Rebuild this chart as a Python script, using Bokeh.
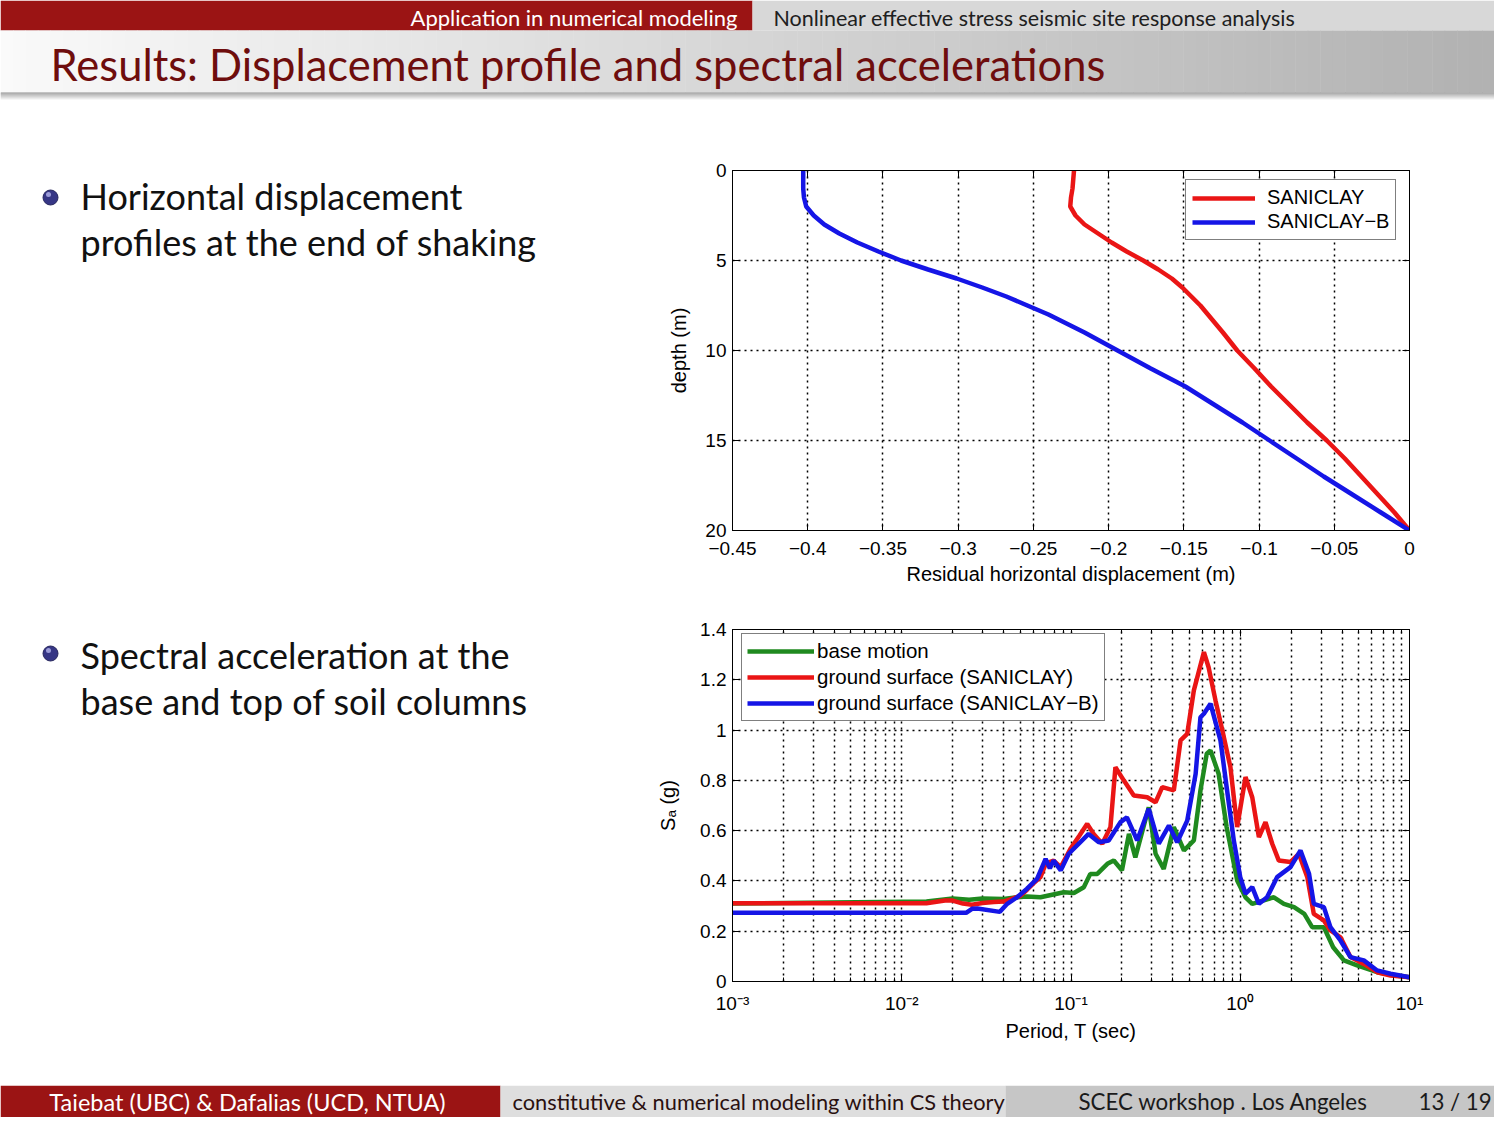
import numpy as np
from bokeh.plotting import figure
from bokeh.layouts import column, row
from bokeh.models import (Range1d, FixedTicker, CustomJSTickFormatter, Legend,
                          LegendItem, LinearAxis, LogAxis)
from bokeh.embed import file_html
from bokeh.resources import INLINE
from bokeh.core.properties import value

# ---------------- data ----------------
depth = [0, 0.5, 1, 1.5, 2, 2.5, 3, 3.5, 4, 4.5, 5, 5.5, 6, 6.5, 7, 7.5, 8,
         9, 10, 11, 12, 13, 14, 15, 16, 17, 18, 19, 20]
disp_saniclay = [-0.223, -0.2235, -0.224, -0.225, -0.2255, -0.222, -0.216,
                 -0.207, -0.198, -0.188, -0.177, -0.167, -0.158, -0.151,
                 -0.145, -0.139, -0.134, -0.124, -0.1145, -0.103, -0.092,
                 -0.080, -0.068, -0.055, -0.043, -0.032, -0.021, -0.010, 0.0]
disp_saniclay_b = [-0.403, -0.403, -0.403, -0.4025, -0.401, -0.396, -0.389,
                   -0.379, -0.367, -0.353, -0.338, -0.320, -0.301, -0.284,
                   -0.268, -0.254, -0.240, -0.216, -0.194, -0.172, -0.149,
                   -0.130, -0.111, -0.093, -0.075, -0.057, -0.038, -0.019, 0.0]

T_base = [0.001, 0.014, 0.02, 0.025, 0.03, 0.04, 0.048, 0.055, 0.066, 0.0907,
          0.104, 0.119, 0.130, 0.143, 0.164, 0.179, 0.20, 0.220, 0.240, 0.288,
          0.316, 0.353, 0.405, 0.465, 0.532, 0.582, 0.634, 0.667, 0.745, 0.831,
          0.959, 1.074, 1.177, 1.58, 1.81, 2.08, 2.39, 2.66, 3.12, 3.54, 4.1,
          4.9, 6.44, 8.3, 10]
Sa_base = [0.31, 0.318, 0.33, 0.325, 0.33, 0.328, 0.335, 0.338, 0.335, 0.355,
           0.352, 0.375, 0.428, 0.428, 0.468, 0.481, 0.442, 0.587, 0.494, 0.693,
           0.508, 0.448, 0.614, 0.521, 0.561, 0.760, 0.906, 0.919, 0.826, 0.614,
           0.402, 0.335, 0.309, 0.335, 0.309, 0.296, 0.269, 0.216, 0.216, 0.136,
           0.084, 0.064, 0.037, 0.024, 0.017]

T_sc = [0.001, 0.014, 0.018, 0.02, 0.023, 0.026, 0.03, 0.035, 0.04, 0.045,
        0.05, 0.055, 0.06, 0.066, 0.071, 0.079, 0.087, 0.0993, 0.112, 0.1247,
        0.136, 0.153, 0.171, 0.183, 0.205, 0.235, 0.282, 0.316, 0.346, 0.405,
        0.444, 0.486, 0.532, 0.61, 0.65, 0.714, 0.80, 0.875, 0.959, 1.074,
        1.177, 1.289, 1.41, 1.545, 1.69, 1.98, 2.22, 2.49, 2.72, 3.12, 3.41,
        3.91, 4.48, 5.37, 6.44, 7.73, 10]
Sa_sc = [0.311, 0.311, 0.322, 0.322, 0.31, 0.305, 0.312, 0.316, 0.318, 0.33,
         0.34, 0.365, 0.39, 0.415, 0.47, 0.481, 0.455, 0.528, 0.58, 0.627,
         0.587, 0.548, 0.614, 0.852, 0.80, 0.740, 0.733, 0.713, 0.773, 0.760,
         0.959, 0.985, 1.158, 1.310, 1.25, 1.118, 0.972, 0.852, 0.614, 0.813,
         0.733, 0.574, 0.634, 0.548, 0.481, 0.475, 0.508, 0.415, 0.269, 0.243,
         0.203, 0.176, 0.097, 0.070, 0.037, 0.024, 0.017]

T_scb = [0.001, 0.024, 0.026, 0.028, 0.038, 0.042, 0.048, 0.055, 0.063, 0.0708,
         0.075, 0.079, 0.087, 0.097, 0.112, 0.127, 0.146, 0.167, 0.196, 0.214,
         0.246, 0.288, 0.330, 0.379, 0.424, 0.486, 0.545, 0.582, 0.61, 0.667,
         0.764, 0.831, 0.916, 1.0, 1.074, 1.177, 1.289, 1.44, 1.65, 1.98, 2.27,
         2.55, 2.72, 3.12, 3.41, 3.91, 4.48, 5.37, 6.44, 7.73, 10]
Sa_scb = [0.273, 0.273, 0.289, 0.29, 0.277, 0.309, 0.335, 0.369, 0.408, 0.488,
          0.45, 0.481, 0.442, 0.508, 0.55, 0.587, 0.554, 0.561, 0.634, 0.653,
          0.561, 0.687, 0.548, 0.620, 0.554, 0.640, 0.826, 1.051, 1.065, 1.105,
          0.959, 0.773, 0.561, 0.415, 0.349, 0.375, 0.309, 0.335, 0.415, 0.455,
          0.521, 0.428, 0.309, 0.296, 0.216, 0.163, 0.097, 0.084, 0.044, 0.031,
          0.017]

disp_ticks = [-0.45, -0.4, -0.35, -0.3, -0.25, -0.2, -0.15, -0.1, -0.05, 0]
depth_ticks = [0, 5, 10, 15, 20]
sa_ticks = [0, 0.2, 0.4, 0.6, 0.8, 1.0, 1.2, 1.4]
period_ticks = [0.001, 0.01, 0.1, 1, 10]
period_minor = [k * d for d in (0.001, 0.01, 0.1, 1) for k in range(2, 10)]

header_left = "Application in numerical modeling"
header_right = "Nonlinear effective stress seismic site response analysis"
title = "Results: Displacement profile and spectral accelerations"
bullet1 = ["Horizontal displacement", "profiles at the end of shaking"]
bullet2 = ["Spectral acceleration at the", "base and top of soil columns"]
footer_texts = ["Taiebat (UBC) & Dafalias  (UCD, NTUA)",
                "constitutive & numerical modeling within CS theory",
                "SCEC workshop . Los Angeles", "13 / 19"]

# ---------------- styles ----------------
W = 1494
RED = "#9b1414"
TITLE_RED = "#6e0d0d"
C_RED = "#ea1515"
C_BLUE = "#1515e6"
C_GREEN = "#1f8a1f"
SLIDE_FONT = value("Lato")
CH_FONT = "Liberation Sans"


def canvas(w, h):
    f = figure(width=w, height=h, x_range=Range1d(0, w), y_range=Range1d(h, 0),
               x_axis_type=None, y_axis_type=None, toolbar_location=None,
               output_backend="svg", min_border=0, outline_line_color=None)
    f.grid.visible = False
    f.background_fill_color = "white"
    f.border_fill_color = "white"
    return f


# ---------------- header ----------------
hdr = canvas(W, 100)
hdr.quad(left=0, right=752, top=0, bottom=30, color=RED, line_color=None)
hdr.quad(left=752, right=W, top=0, bottom=30, color="#d8d8d8", line_color=None)
n = 120
xs = np.linspace(0, W, n + 1)
g = np.linspace(250, 178, n).astype(int)
hdr.quad(left=xs[:-1], right=xs[1:] + 0.5, top=30, bottom=92,
         color=["#%02x%02x%02x" % (v, v, v) for v in g], line_color=None)
ys = np.arange(92, 100)
sg = np.linspace(140, 250, len(ys)).astype(int)
hdr.quad(left=0, right=W, top=ys, bottom=ys + 1,
         color=["#%02x%02x%02x" % (v, v, v) for v in sg], line_color=None)
hdr.text(x=[737], y=[17], text=[header_left], text_align="right",
         text_baseline="middle", text_color="white", text_font=SLIDE_FONT,
         text_font_size="22px")
hdr.text(x=[773], y=[17], text=[header_right], text_align="left",
         text_baseline="middle", text_color="#202020", text_font=SLIDE_FONT,
         text_font_size="21.5px")
hdr.text(x=[50], y=[63], text=[title], text_align="left",
         text_baseline="middle", text_color=TITLE_RED, text_font=SLIDE_FONT,
         text_font_size="43.5px")

# ---------------- left text ----------------
left = canvas(648, 985)
left.scatter(x=[50, 50], y=[97, 553], size=15, marker="circle",
             fill_color="#363685", line_color="#28285e")
left.scatter(x=[48, 48], y=[94, 550], size=5, marker="circle",
             fill_color="#9c9cd8", line_color=None)
left.text(x=[80, 80, 80, 80], y=[95, 141, 554, 600],
          text=bullet1 + bullet2, text_align="left", text_baseline="middle",
          text_color="#111111", text_font=SLIDE_FONT, text_font_size="36px")


def style_axis(ax, ticker, fmt=None, labels=True):
    ax.ticker = ticker
    if fmt is not None:
        ax.formatter = fmt
    ax.major_tick_in = 7
    ax.major_tick_out = 0
    ax.minor_tick_in = 4
    ax.minor_tick_out = 0
    ax.axis_line_color = "black"
    ax.major_tick_line_color = "black"
    ax.major_label_text_font = CH_FONT
    ax.major_label_text_font_size = "19px"
    ax.major_label_text_color = "black"
    ax.axis_label_text_font = CH_FONT
    ax.axis_label_text_font_size = "20px"
    ax.axis_label_text_font_style = "normal"
    ax.axis_label_text_color = "black"
    if not labels:
        ax.formatter = CustomJSTickFormatter(code="return ''")


def style_grid(p, minor=False):
    for gr in (p.xgrid, p.ygrid):
        gr.grid_line_color = "black"
        gr.grid_line_dash = "2 4"
        gr.grid_line_width = 1.5
        gr.grid_line_alpha = 1.0
    if minor:
        p.xgrid.minor_grid_line_color = "black"
        p.xgrid.minor_grid_line_dash = "2 4"
        p.xgrid.minor_grid_line_width = 1.5
        p.xgrid.minor_grid_line_alpha = 1.0


minus_fmt = CustomJSTickFormatter(code="""
if (Math.abs(tick) < 1e-9) return '0';
return '\u2212' + Math.abs(tick).toFixed(2).replace(/0+$/, '');
""")

# ---------------- top chart ----------------
p1 = figure(frame_width=677, frame_height=360, min_border_left=84,
            min_border_right=85, min_border_top=70, min_border_bottom=64,
            x_range=Range1d(-0.45, 0), y_range=Range1d(20, 0),
            toolbar_location=None, output_backend="svg")
p1.outline_line_color = "black"
p1.outline_line_alpha = 1
p1.background_fill_color = "white"
p1.border_fill_color = "white"
style_axis(p1.xaxis[0], FixedTicker(ticks=disp_ticks), minus_fmt)
style_axis(p1.yaxis[0], FixedTicker(ticks=depth_ticks))
p1.xaxis[0].axis_label = "Residual horizontal displacement (m)"
p1.xaxis[0].axis_label_standoff = 5
p1.xaxis[0].major_label_standoff = 11
p1.yaxis[0].axis_label = "depth (m)"
p1.yaxis[0].axis_label_standoff = 12
p1.yaxis[0].major_label_standoff = 6
ax_top = LinearAxis()
style_axis(ax_top, FixedTicker(ticks=disp_ticks), labels=False)
p1.add_layout(ax_top, "above")
ax_right = LinearAxis()
style_axis(ax_right, FixedTicker(ticks=depth_ticks), labels=False)
p1.add_layout(ax_right, "right")
style_grid(p1)
r1 = p1.line(disp_saniclay, depth, line_color=C_RED, line_width=4.5)
r2 = p1.line(disp_saniclay_b, depth, line_color=C_BLUE, line_width=4.5)
leg1 = Legend(items=[LegendItem(label="SANICLAY", renderers=[r1]),
                     LegendItem(label="SANICLAY\u2212B", renderers=[r2])],
              location=(453, 290), glyph_width=63, glyph_height=20,
              label_height=20, spacing=1, padding=6, margin=0,
              label_standoff=12, border_line_color="black", border_line_width=1.2,
              background_fill_color="white", background_fill_alpha=1,
              label_text_font=CH_FONT, label_text_font_size="20px",
              label_text_color="black")
p1.add_layout(leg1)

# ---------------- bottom chart ----------------
p2 = figure(frame_width=677, frame_height=352, min_border_left=84,
            min_border_right=85, min_border_top=35, min_border_bottom=104,
            x_axis_type="log", x_range=Range1d(1e-3, 10),
            y_range=Range1d(0, 1.4), toolbar_location=None,
            output_backend="svg")
p2.outline_line_color = "black"
p2.background_fill_color = "white"
p2.border_fill_color = "white"
log_fmt = CustomJSTickFormatter(code="""
const s = {'-3': '\u207b\u00b3', '-2': '\u207b\u00b2', '-1': '\u207b\u00b9', '0': '\u2070', '1': '\u00b9'};
const e = Math.round(Math.log10(tick));
return '10' + s[String(e)];
""")
sa_fmt = CustomJSTickFormatter(code="""
if (Math.abs(tick) < 1e-9) return '0';
if (Math.abs(tick - 1) < 1e-9) return '1';
return tick.toFixed(1);
""")
style_axis(p2.xaxis[0], FixedTicker(ticks=period_ticks, minor_ticks=period_minor), log_fmt)
style_axis(p2.yaxis[0], FixedTicker(ticks=sa_ticks), sa_fmt)
p2.xaxis[0].axis_label = "Period, T (sec)"
p2.xaxis[0].axis_label_standoff = 3
p2.xaxis[0].major_label_standoff = 11
p2.yaxis[0].axis_label = "S\u2090 (g)"
p2.yaxis[0].axis_label_standoff = 18
p2.yaxis[0].major_label_standoff = 6
p2.yaxis[0].minor_tick_line_color = None
ax_top2 = LogAxis()
style_axis(ax_top2, FixedTicker(ticks=period_ticks, minor_ticks=period_minor), labels=False)
p2.add_layout(ax_top2, "above")
ax_right2 = LinearAxis()
style_axis(ax_right2, FixedTicker(ticks=sa_ticks), labels=False)
ax_right2.minor_tick_line_color = None
p2.add_layout(ax_right2, "right")
style_grid(p2, minor=True)
g1 = p2.line(T_base, Sa_base, line_color=C_GREEN, line_width=4.5)
g2 = p2.line(T_sc, Sa_sc, line_color=C_RED, line_width=4.5)
g3 = p2.line(T_scb, Sa_scb, line_color=C_BLUE, line_width=4.5)
leg2 = Legend(items=[LegendItem(label="base motion", renderers=[g1]),
                     LegendItem(label="ground surface (SANICLAY)", renderers=[g2]),
                     LegendItem(label="ground surface (SANICLAY\u2212B)", renderers=[g3])],
              location=(9, 260), glyph_width=67, glyph_height=20,
              label_height=20, spacing=2, padding=5, margin=0,
              label_standoff=3, border_line_color="black", border_line_width=1.2,
              background_fill_color="white", background_fill_alpha=1,
              label_text_font=CH_FONT, label_text_font_size="20.5px",
              label_text_color="black")
p2.add_layout(leg2)

# ---------------- footer ----------------
ftr = canvas(W, 32)
ftr.quad(left=0, right=500, top=0, bottom=32, color=RED, line_color=None)
ftr.quad(left=500, right=1005, top=0, bottom=32, color="#dedede", line_color=None)
ftr.quad(left=1005, right=W, top=0, bottom=32, color="#c6c6c6", line_color=None)
ftr.text(x=[250], y=[16], text=[footer_texts[0]], text_align="center",
         text_baseline="middle", text_color="white", text_font=SLIDE_FONT,
         text_font_size="23.5px")
ftr.text(x=[512], y=[16], text=[footer_texts[1]], text_align="left",
         text_baseline="middle", text_color="#2a1010", text_font=SLIDE_FONT,
         text_font_size="21.8px")
ftr.text(x=[1078, 1418], y=[16, 16], text=footer_texts[2:], text_align="left",
         text_baseline="middle", text_color="#1a1a1a", text_font=SLIDE_FONT,
         text_font_size="22.3px")

layout = column(hdr, row(left, column(p1, p2)), ftr)
open("out.html", "w").write(file_html(layout, INLINE))
